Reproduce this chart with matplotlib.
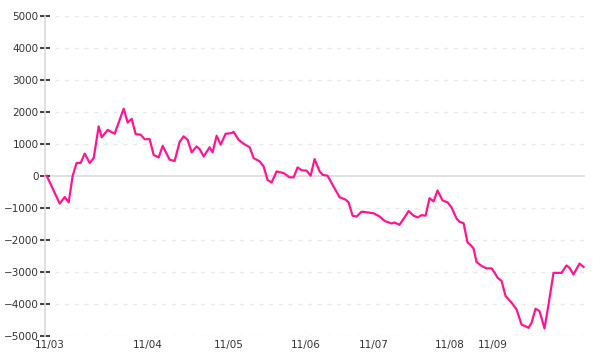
import matplotlib.pyplot as plt

# position along the time axis (trading steps) and cumulative P&L value
x_pos = [0, 13, 18, 22, 26, 30, 34, 38, 43, 47,
         52, 55, 61, 68, 73, 77, 81, 85, 89, 94,
         98, 103, 107, 112, 116, 123, 128, 133, 137, 141,
         145, 150, 153, 157, 163, 166, 170, 174, 179, 185,
         187, 192, 197, 203, 207, 213, 217, 221, 225, 230,
         237, 243, 247, 251, 255, 260, 264, 268, 273, 276,
         281, 287, 293, 299, 302, 306, 310, 315, 320, 327,
         333, 338, 345, 348, 353, 358, 362, 367, 371, 375,
         379, 383, 387, 391, 396, 401, 405, 410, 413, 417,
         421, 424, 427, 430, 435, 440, 445, 448, 451, 455,
         459, 465, 470, 475, 482, 485, 489, 493, 498, 502,
         507, 515, 520, 523, 527, 533, 537]
values = [0, -870, -665, -830, 0, 400, 400, 690, 400, 550,
          1540, 1200, 1430, 1310, 1745, 2090, 1660, 1775, 1300, 1280,
          1140, 1140, 650, 570, 930, 500, 460, 1060, 1230, 1120,
          730, 915, 830, 600, 890, 730, 1250, 970, 1310, 1330,
          1370, 1120, 1000, 890, 550, 450, 290, -135, -210, 135,
          85, -50, -50, 260, 170, 160, 0, 520, 135, 30,
          0, -340, -670, -745, -830, -1245, -1275, -1120, -1140, -1170,
          -1270, -1410, -1490, -1460, -1530, -1300, -1100, -1245, -1300, -1230,
          -1245, -700, -800, -460, -770, -830, -990, -1335, -1440, -1480,
          -2080, -2160, -2270, -2690, -2815, -2890, -2890, -3020, -3180, -3280,
          -3750, -3960, -4170, -4640, -4745, -4590, -4150, -4225, -4765, -4020,
          -3030, -3030, -2800, -2875, -3080, -2740, -2845]

tick_pos = [3, 101, 182, 259, 327, 403, 446]
tick_labels = ['11/03', '11/04', '11/05', '11/06', '11/07', '11/08', '11/09']
y_ticks = [5000, 4000, 3000, 2000, 1000, 0, -1000, -2000, -3000, -4000, -5000]

fig = plt.figure(figsize=(6, 3.6), dpi=100)
ax = fig.add_axes([45 / 600, 24 / 360, 540 / 600, 320.5 / 360])

# grid lines: dashed, zero line solid
for yv in y_ticks:
    if yv == 0:
        ax.axhline(yv, color='#dcdcdc', lw=1.2, zorder=1)
    else:
        ax.axhline(yv, color='#e8e8e8', lw=1, ls=(0, (3, 4)), zorder=1)

ax.plot(x_pos, values, color='#ff1493', lw=1.6, zorder=3)

ax.set_xlim(-1.7, 538.5)
ax.set_ylim(-5000, 5000)
ax.set_yticks(y_ticks)
ax.set_yticklabels([str(v).replace('-', '\u2212') for v in y_ticks])
ax.set_xticks(tick_pos)
ax.set_xticklabels(tick_labels)

for side in ['top', 'right', 'bottom']:
    ax.spines[side].set_visible(False)
ax.spines['left'].set_color('#d9d9d9')
ax.spines['left'].set_linewidth(1.2)

ax.tick_params(axis='y', direction='inout', length=7, width=1.2, color='#222222',
               labelsize=7.5, labelcolor='#333333', pad=1)
ax.tick_params(axis='x', length=0, labelsize=7.5, labelcolor='#333333', pad=3)

fig.savefig('out.png', dpi=100)
